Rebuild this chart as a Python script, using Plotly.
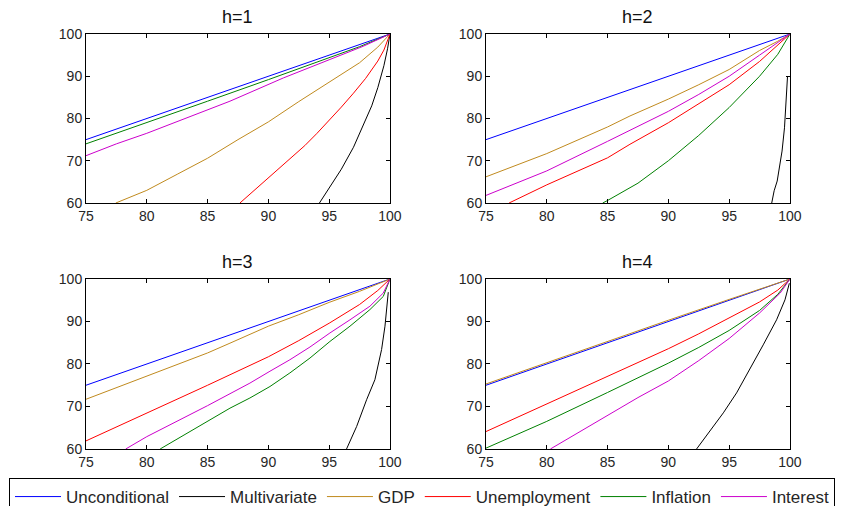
import plotly.graph_objects as go
from plotly.subplots import make_subplots

# series names and colours
names = ["Unconditional", "Multivariate", "GDP", "Unemployment", "Inflation", "Interest"]
colors = ["#0000FF", "#000000", "#C08A1E", "#FF0000", "#008000", "#CC00CC"]

# h=1
h1_unc_x = [75, 100]
h1_unc_y = [75, 100]
h1_mult_x = [94.2, 95, 96, 97, 98, 98.5, 99, 99.5, 99.8, 100]
h1_mult_y = [60, 63.5, 68, 73.2, 79.5, 83, 87.3, 92.5, 96.5, 100]
h1_gdp_x = [77.45, 80, 82.5, 85, 87.5, 90, 92.5, 95, 97.5, 99, 100]
h1_gdp_y = [60, 63, 66.8, 70.6, 75, 79.2, 84.0, 88.6, 93.2, 96.9, 100]
h1_unemp_x = [87.66, 89, 90, 91, 92, 93, 94, 95, 96, 97, 98, 99, 99.5, 100]
h1_unemp_y = [60, 63.4, 65.8, 68.3, 70.9, 73.6, 76.5, 79.5, 82.7, 86.0, 89.5, 93.6, 96.2, 100]
h1_infl_x = [75, 80, 85, 90, 95, 97.5, 100]
h1_infl_y = [74.0, 79.0, 84.1, 89.2, 94.3, 97.0, 100]
h1_int_x = [75, 77.5, 80, 82.5, 85, 86.84, 91.23, 95.61, 97.8, 100]
h1_int_y = [71.2, 74, 76.5, 79.3, 82.0, 84.1, 89.6, 94.5, 97.1, 100]

# h=2
h2_unc_x = [75, 100]
h2_unc_y = [75, 100]
h2_mult_x = [98.5, 98.7, 98.95, 99.35, 99.55, 99.7, 99.8]
h2_mult_y = [60, 62.9, 65.2, 72.3, 77.8, 84.1, 90]
h2_gdp_x = [75, 80, 85, 86.84, 90, 92.5, 95, 97.5, 99, 100]
h2_gdp_y = [66.2, 71.7, 78, 80.6, 84.6, 88, 91.6, 96.1, 98.3, 100]
h2_unemp_x = [76.9, 80, 85, 86.84, 90, 92.5, 95, 97.5, 99, 100]
h2_unemp_y = [60, 64.3, 70.7, 73.9, 79, 83.5, 88, 93.5, 97.3, 100]
h2_infl_x = [84.6, 85, 87.5, 90, 92.5, 95, 97.5, 99, 100]
h2_infl_y = [60, 60.6, 64.7, 70.0, 76.0, 82.6, 90.0, 95.2, 100]
h2_int_x = [75, 80, 85, 86.84, 90, 92.5, 95, 97.5, 99, 100]
h2_int_y = [61.8, 67.6, 74.6, 77.2, 81.7, 85.7, 90, 95, 97.9, 100]

# h=3
h3_unc_x = [75, 100]
h3_unc_y = [75, 100]
h3_mult_x = [96.43, 97.26, 98.08, 98.76, 99.31, 99.59, 99.86]
h3_mult_y = [60, 65.3, 71.6, 76.3, 83.4, 88.9, 96.9]
h3_gdp_x = [75, 80, 85, 86.84, 90, 92.5, 95, 97.5, 100]
h3_gdp_y = [71.7, 77.2, 82.6, 84.9, 88.9, 91.6, 94.5, 97.1, 100]
h3_unemp_x = [75, 80, 85, 90, 92.5, 95, 97.5, 99, 100]
h3_unemp_y = [61.9, 68.4, 75.0, 81.7, 85.5, 89.6, 94.0, 97.3, 100]
h3_infl_x = [81.1, 85, 86.84, 88.48, 90.13, 91.77, 93.42, 95.06, 96.71, 98.35, 99.45, 100]
h3_infl_y = [60, 66.4, 69.6, 72.0, 74.7, 77.9, 81.4, 85.3, 88.9, 92.8, 95.9, 100]
h3_int_x = [78.27, 80, 85, 86.84, 88.48, 90.13, 91.77, 93.42, 95.06, 96.71, 98.35, 99.45, 100]
h3_int_y = [60, 62.9, 70.2, 73.0, 75.5, 78.3, 81.0, 84.0, 87.3, 90.4, 93.6, 96.7, 100]

# h=4
h4_unc_x = [75, 100]
h4_unc_y = [75, 100]
h4_mult_x = [92.32, 93.42, 94.52, 95.61, 96.71, 97.8, 98.9, 99.59, 99.95]
h4_mult_y = [60, 64.2, 68.5, 73.2, 78.7, 84.5, 90.4, 95.1, 99]
h4_gdp_x = [75, 80, 85, 90, 95, 100]
h4_gdp_y = [75.3, 80.3, 85.4, 90.3, 95.2, 100]
h4_unemp_x = [75, 80, 85, 90, 92.5, 95, 97.5, 99, 100]
h4_unemp_y = [64.1, 70.6, 77.0, 83.6, 87.1, 90.8, 94.6, 97.4, 100]
h4_infl_x = [75, 80, 85, 90, 92.5, 95, 97.5, 99, 100]
h4_infl_y = [60.2, 66.5, 73.3, 80.2, 83.9, 87.9, 92.6, 96.4, 100]
h4_int_x = [80.3, 85, 87.5, 90, 92.5, 95, 97.5, 99.2, 100]
h4_int_y = [60, 67.8, 72.1, 76.0, 80.8, 86.0, 92.0, 96.7, 100]

panels = [
    ("h=1", 1, 1, [(h1_unc_x, h1_unc_y), (h1_mult_x, h1_mult_y), (h1_gdp_x, h1_gdp_y),
                   (h1_unemp_x, h1_unemp_y), (h1_infl_x, h1_infl_y), (h1_int_x, h1_int_y)]),
    ("h=2", 1, 2, [(h2_unc_x, h2_unc_y), (h2_mult_x, h2_mult_y), (h2_gdp_x, h2_gdp_y),
                   (h2_unemp_x, h2_unemp_y), (h2_infl_x, h2_infl_y), (h2_int_x, h2_int_y)]),
    ("h=3", 2, 1, [(h3_unc_x, h3_unc_y), (h3_mult_x, h3_mult_y), (h3_gdp_x, h3_gdp_y),
                   (h3_unemp_x, h3_unemp_y), (h3_infl_x, h3_infl_y), (h3_int_x, h3_int_y)]),
    ("h=4", 2, 2, [(h4_unc_x, h4_unc_y), (h4_mult_x, h4_mult_y), (h4_gdp_x, h4_gdp_y),
                   (h4_unemp_x, h4_unemp_y), (h4_infl_x, h4_infl_y), (h4_int_x, h4_int_y)]),
]

x_ticks = [75, 80, 85, 90, 95, 100]
y_ticks = [60, 70, 80, 90, 100]

fig = make_subplots(rows=2, cols=2)

first = True
for title, r, c, series in panels:
    for i, (xs, ys) in enumerate(series):
        fig.add_trace(go.Scatter(x=xs, y=ys, mode="lines", name=names[i],
                                 line=dict(color=colors[i], width=1),
                                 showlegend=first, legendgroup=names[i]),
                      row=r, col=c)
    first = False

# panel positions (paper coords); the page body adds an 8px offset
x_dom = {1: [0.0922, 0.4515], 2: [0.5650, 0.9243]}
y_dom = {1: [0.6146, 0.9486], 2: [0.1285, 0.4644]}

axis_style = dict(showgrid=False, zeroline=False, showline=True, linecolor="black",
                  linewidth=1, mirror="allticks", ticks="inside", ticklen=4,
                  tickcolor="black", tickfont=dict(size=14, color="#262626"))

for title, r, c, series in panels:
    fig.update_xaxes(range=[75, 100], tickvals=x_ticks, domain=x_dom[c], row=r, col=c, **axis_style)
    fig.update_yaxes(range=[60, 100], tickvals=y_ticks, domain=y_dom[r], row=r, col=c, **axis_style)
    fig.add_annotation(text=title, x=sum(x_dom[c]) / 2, y=y_dom[r][1], xref="paper", yref="paper",
                       xanchor="center", yanchor="bottom", yshift=5, showarrow=False,
                       font=dict(size=18, color="#111111"))

fig.update_layout(
    width=846, height=506,
    margin=dict(l=0, r=0, t=0, b=0, autoexpand=False),
    paper_bgcolor="white", plot_bgcolor="white",
    font=dict(family="Liberation Sans, Arial, sans-serif", color="#262626"),
    legend=dict(orientation="h", x=0.0012, xanchor="left", y=0.0711, yanchor="top",
                bordercolor="black", borderwidth=1, font=dict(size=17, color="#262626"),
                itemwidth=46, traceorder="normal"),
)

fig.write_html("out.html")
